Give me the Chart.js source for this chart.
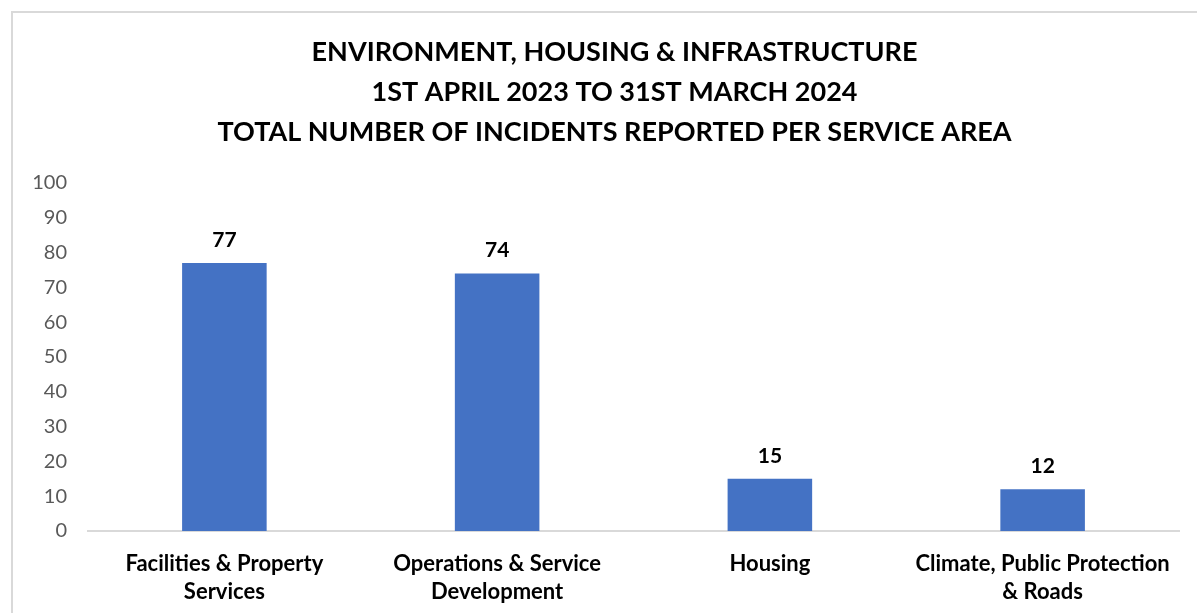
<!DOCTYPE html>
<html>
<head>
<meta charset="utf-8">
<script src="https://cdn.jsdelivr.net/npm/chart.js@4/dist/chart.umd.min.js"></script>
<style>
  html, body { margin: 0; padding: 0; background: #fff; }
  #wrap { position: relative; width: 1197px; height: 613px; overflow: hidden; }
  #frame { position: absolute; left: 11px; top: 11px; width: 1300px; height: 700px; border-left: 2px solid #d9d9d9; border-top: 2px solid #d9d9d9; box-sizing: border-box; }
  canvas { position: absolute; left: 0; top: 0; }
</style>
</head>
<body>
<div id="wrap">
  <div id="frame"></div>
  <canvas id="c" width="1197" height="613"></canvas>
</div>
<script>
const titleLines = [
  "ENVIRONMENT, HOUSING & INFRASTRUCTURE",
  "1ST APRIL 2023 TO 31ST MARCH 2024",
  "TOTAL NUMBER OF INCIDENTS REPORTED PER SERVICE AREA"
];
const categories = [
  ["Facilities & Property", "Services"],
  ["Operations & Service", "Development"],
  ["Housing"],
  ["Climate, Public Protection", "& Roads"]
];
const incidents = [77, 74, 15, 12];
const yMin = 0, yMax = 100, yStep = 10;

const valueLabels = {
  id: 'valueLabels',
  afterDatasetsDraw(chart) {
    const ctx = chart.ctx;
    const meta = chart.getDatasetMeta(0);
    ctx.save();
    ctx.font = 'bold 21px Lato';
    ctx.fillStyle = '#000';
    ctx.textAlign = 'center';
    ctx.textBaseline = 'middle';
    meta.data.forEach((bar, i) => {
      ctx.fillText(String(chart.data.datasets[0].data[i]), bar.x, bar.y - 23);
    });
    ctx.restore();
  }
};

// Chart title, centred on the outer chart frame (which starts at x=12)
const frameTitle = {
  id: 'frameTitle',
  afterDraw(chart) {
    const ctx = chart.ctx;
    ctx.save();
    ctx.font = 'bold 27px Lato';
    ctx.fillStyle = '#000';
    ctx.textAlign = 'center';
    ctx.textBaseline = 'middle';
    const cx = (12 + chart.width + 20) / 2;
    titleLines.forEach((line, i) => {
      ctx.fillText(line, cx, 52 + i * 40);
    });
    ctx.restore();
  }
};

new Chart(document.getElementById('c'), {
  type: 'bar',
  data: {
    labels: categories,
    datasets: [{
      data: incidents,
      backgroundColor: '#4472c4',
      borderWidth: 0,
      barPercentage: 0.31,
      categoryPercentage: 1.0
    }]
  },
  options: {
    responsive: false,
    animation: false,
    events: [],
    layout: { padding: { left: 0, right: 18, top: 183, bottom: 0 } },
    plugins: {
      legend: { display: false },
      tooltip: { enabled: false },
      title: { display: false }
    },
    scales: {
      x: {
        grid: { display: false, drawTicks: false },
        border: { display: true, color: '#d9d9d9', width: 2 },
        ticks: {
          color: '#000',
          font: { family: 'Lato', size: 22, weight: 'bold', lineHeight: 1.28 },
          padding: 19,
          maxRotation: 0,
          autoSkip: false
        },
        afterFit(scale) { scale.height = 82; }
      },
      y: {
        min: yMin,
        max: yMax,
        grid: { display: false, drawTicks: false },
        border: { display: false },
        ticks: {
          stepSize: yStep,
          color: '#595959',
          font: { family: 'Lato', size: 20 },
          padding: 21
        },
        afterFit(scale) { scale.width = 88; }
      }
    }
  },
  plugins: [valueLabels, frameTitle]
});
</script>
</body>
</html>
